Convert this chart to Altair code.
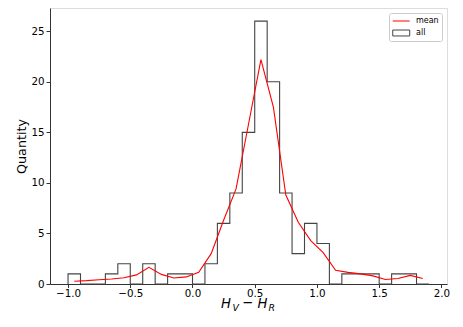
import altair as alt
import pandas as pd

# histogram (step outline), bins of width 0.1
bin_edges = [-1.0, -0.9, -0.8, -0.7, -0.6, -0.5, -0.4, -0.3, -0.2, -0.1,
             0.0, 0.1, 0.2, 0.3, 0.4, 0.5, 0.6, 0.7, 0.8, 0.9,
             1.0, 1.1, 1.2, 1.3, 1.4, 1.5, 1.6, 1.7, 1.8, 1.9]
counts = [1, 0, 0, 1, 2, 0, 2, 0, 1, 1,
          0, 2, 6, 9, 15, 26, 20, 9, 3, 6,
          4, 0, 1, 1, 1, 0, 1, 1, 0]

# red "mean" curve at bin centres
mean_x = [-0.95, -0.85, -0.75, -0.65, -0.55, -0.45, -0.35, -0.25, -0.15, -0.05,
          0.05, 0.15, 0.25, 0.35, 0.45, 0.55, 0.65, 0.75, 0.85, 0.95,
          1.05, 1.15, 1.25, 1.35, 1.45, 1.55, 1.65, 1.75, 1.85]
mean_y = [0.27, 0.33, 0.42, 0.50, 0.62, 0.90, 1.65, 0.95, 0.60, 0.70,
          1.15, 3.0, 6.3, 9.4, 15.8, 22.2, 17.5, 8.8, 6.1, 4.3,
          3.1, 1.35, 1.15, 1.0, 0.8, 0.45, 0.55, 0.85, 0.55]

series_names = ["mean", "all"]
x_ticks = [-1.0, -0.5, 0.0, 0.5, 1.0, 1.5, 2.0]
y_ticks = [0, 5, 10, 15, 20, 25]
x_domain = [-1.145, 2.045]
y_domain = [0, 27.3]

# x-axis title pieces (mathtext H_V - H_R)
title_parts = ["H", "V", "\u2212", "H", "R"]

FONT = "DejaVu Sans"
W, H = 397, 276

# step table
step_rows = [{"x": bin_edges[0], "y": 0, "o": 0, "series": "all"}]
for i, c in enumerate(counts):
    step_rows.append({"x": bin_edges[i], "y": c, "o": i + 1, "series": "all"})
step_rows.append({"x": bin_edges[-1], "y": 0, "o": len(counts) + 1, "series": "all"})
step_df = pd.DataFrame(step_rows)

mean_df = pd.DataFrame({"x": mean_x, "y": mean_y, "series": "mean"})

xscale = alt.Scale(domain=x_domain, nice=False, zero=False)
yscale = alt.Scale(domain=y_domain, nice=False)
cscale = alt.Scale(domain=series_names, range=["red", "#444444"])

legend = alt.Legend(
    title=None, orient="top-right", offset=5,
    symbolType=alt.ExprRef(expr="datum.label === 'mean' ? 'M-1,0H3' : 'M-1,-0.7H3V0.7H-1Z'"),
    symbolSize=72, symbolStrokeWidth=1, symbolFillColor="transparent",
    labelFont=FONT, labelFontSize=8, labelColor="black", labelOffset=14,
    padding=3, rowPadding=3, strokeColor="#cccccc", fillColor="white",
    cornerRadius=2,
)

xaxis = alt.Axis(values=x_ticks, title=None, grid=False, tickSize=3.5, labelPadding=1,
                 labelExpr="replace(format(datum.value, '.1f'), '-', '\u2212')",
                 labelFont=FONT, labelFontSize=10.3, labelColor="black",
                 domainColor="#333333", tickColor="#333333")
yaxis = alt.Axis(values=y_ticks, title="Quantity", grid=False, tickSize=4, labelPadding=2,
                 labelFont=FONT, labelFontSize=10.3, labelColor="black",
                 titleFont=FONT, titleFontSize=12.7, titleFontWeight="normal",
                 titleColor="black", titlePadding=2,
                 domainColor="#333333", tickColor="#333333")

hist = alt.Chart(step_df).mark_line(interpolate="step-after", strokeWidth=1.1).encode(
    x=alt.X("x:Q", scale=xscale, axis=xaxis),
    y=alt.Y("y:Q", scale=yscale, axis=yaxis),
    order="o:Q",
    color=alt.Color("series:N", scale=cscale, legend=legend),
)

mean_line = alt.Chart(mean_df).mark_line(strokeWidth=1.1).encode(
    x="x:Q", y="y:Q",
    color=alt.Color("series:N", scale=cscale, legend=legend),
)

# x-axis mathtext title pieces
tx = [171, 182.5, 197.5, 207.5, 218.5]
ty = [H + 24, H + 27, H + 23, H + 24, H + 27]
tsize = [13.2, 9.3, 13.2, 13.2, 9.3]
tstyle = ["italic", "italic", "normal", "italic", "italic"]
talign = ["left", "left", "center", "left", "left"]
title_layers = []
for i, part in enumerate(title_parts):
    title_layers.append(
        alt.Chart(pd.DataFrame({"t": [part]})).mark_text(
            font=FONT, fontSize=tsize[i], fontStyle=tstyle[i], align=talign[i],
            baseline="alphabetic", color="black",
        ).encode(x=alt.value(tx[i]), y=alt.value(ty[i]), text="t:N")
    )

chart = alt.layer(hist, mean_line, *title_layers).properties(
    width=W, height=H,
    padding={"left": 7, "top": 0, "right": 5, "bottom": 0},
).configure_view(stroke="#333333", strokeWidth=1).configure(background="white")

chart.save("out.html", embed_options={"renderer": "svg", "actions": False})
